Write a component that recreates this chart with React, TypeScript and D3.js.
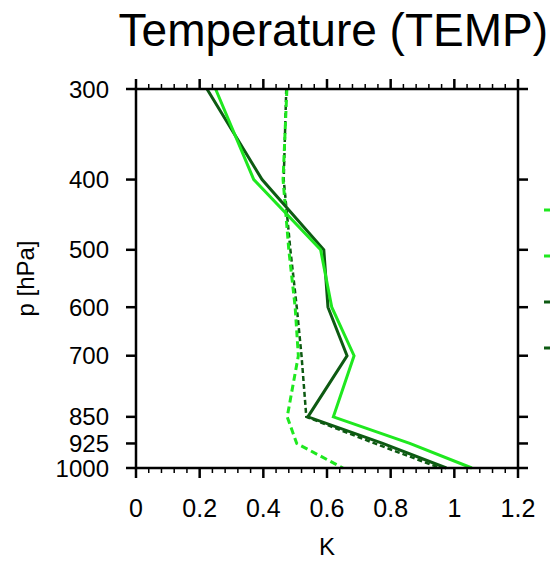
import React from "react";
import * as d3 from "d3";

const levels = [300, 400, 500, 600, 700, 850, 925, 1000];
const levelLabels = ["300", "400", "500", "600", "700", "850", "925", "1000"];
const xTicks = [0, 0.2, 0.4, 0.6, 0.8, 1, 1.2];
const xTickLabels = ["0", "0.2", "0.4", "0.6", "0.8", "1", "1.2"];

const lightSolid = [0.25, 0.37, 0.58, 0.615, 0.685, 0.62, 0.86, 1.055];
const darkSolid = [0.223, 0.396, 0.59, 0.603, 0.663, 0.54, 0.775, 0.975];
const lightDashed = [0.474, 0.462, 0.48, 0.5, 0.51, 0.475, 0.505, 0.65];
const darkDashed = [0.472, 0.464, 0.485, 0.505, 0.52, 0.535, 0.75, 0.955];

const LIGHT = "#1fe81f";
const DARK = "#0d5a12";

const series = [
  { name: "darkDashed", values: darkDashed, color: DARK, dash: "5,3", width: 2.5 },
  { name: "lightDashed", values: lightDashed, color: LIGHT, dash: "7,4", width: 3 },
  { name: "darkSolid", values: darkSolid, color: DARK, dash: "none", width: 3 },
  { name: "lightSolid", values: lightSolid, color: LIGHT, dash: "none", width: 3 },
];

const legendColors = [LIGHT, LIGHT, DARK, DARK];

export default function App() {
  const W = 550, H = 561;
  const left = 136, right = 518, top = 89, bottom = 468;
  const x = d3.scaleLinear().domain([0, 1.2]).range([left, right]);
  const y = d3.scaleLog().domain([300, 1000]).range([top, bottom]);
  const minor = d3.range(0, 1.2001, 0.04).filter((v) => Math.abs(Math.round(v / 0.2) * 0.2 - v) > 1e-6);
  const line = d3
    .line<[number, number]>()
    .x((d) => x(d[0]))
    .y((d) => y(d[1]));
  const font = "'Liberation Sans', Arial, Helvetica, sans-serif";
  const legendYs = [210, 256, 302, 348];

  return (
    <svg width={W} height={H} style={{ position: "absolute", left: 0, top: 0 }} fontFamily={font}>
      <rect x={0} y={0} width={W} height={H} fill="white" />
      <text x={548} y={46} textAnchor="end" fontSize={46} fill="#000">
        Temperature (TEMP)
      </text>
      {series.map((s) => (
        <path
          key={s.name}
          d={line(s.values.map((v, i) => [v, levels[i]] as [number, number])) || ""}
          fill="none"
          stroke={s.color}
          strokeWidth={s.width}
          strokeDasharray={s.dash}
          strokeLinejoin="miter"
        />
      ))}
      <rect x={left} y={top} width={right - left} height={bottom - top} fill="none" stroke="#000" strokeWidth={2.5} />
      {xTicks.map((t) => (
        <g key={"xt" + t}>
          <line x1={x(t)} x2={x(t)} y1={bottom} y2={bottom + 10} stroke="#000" strokeWidth={2.5} />
          <line x1={x(t)} x2={x(t)} y1={top} y2={top - 10} stroke="#000" strokeWidth={2.5} />
        </g>
      ))}
      {minor.map((t, i) => (
        <g key={"mt" + i}>
          <line x1={x(t)} x2={x(t)} y1={bottom} y2={bottom + 5} stroke="#000" strokeWidth={1.5} />
          <line x1={x(t)} x2={x(t)} y1={top} y2={top - 5} stroke="#000" strokeWidth={1.5} />
        </g>
      ))}
      {xTicks.map((t, i) => (
        <text key={"xl" + t} x={x(t)} y={517} textAnchor="middle" fontSize={25} fill="#000">
          {xTickLabels[i]}
        </text>
      ))}
      {levels.map((p, i) => (
        <g key={"yt" + p}>
          <line x1={left} x2={left - 10} y1={y(p)} y2={y(p)} stroke="#000" strokeWidth={2.5} />
          <line x1={right} x2={right + 10} y1={y(p)} y2={y(p)} stroke="#000" strokeWidth={2.5} />
          <text x={109} y={y(p)} dy="0.36em" textAnchor="end" fontSize={24} fill="#000">
            {levelLabels[i]}
          </text>
        </g>
      ))}
      <text x={327} y={555} textAnchor="middle" fontSize={24} fill="#000">
        K
      </text>
      <text transform={`translate(34,${(top + bottom) / 2}) rotate(-90)`} textAnchor="middle" fontSize={24} fill="#000">
        p [hPa]
      </text>
      {legendYs.map((ly, i) => (
        <line key={"lg" + i} x1={544} x2={560} y1={ly} y2={ly} stroke={legendColors[i]} strokeWidth={3} />
      ))}
    </svg>
  );
}
